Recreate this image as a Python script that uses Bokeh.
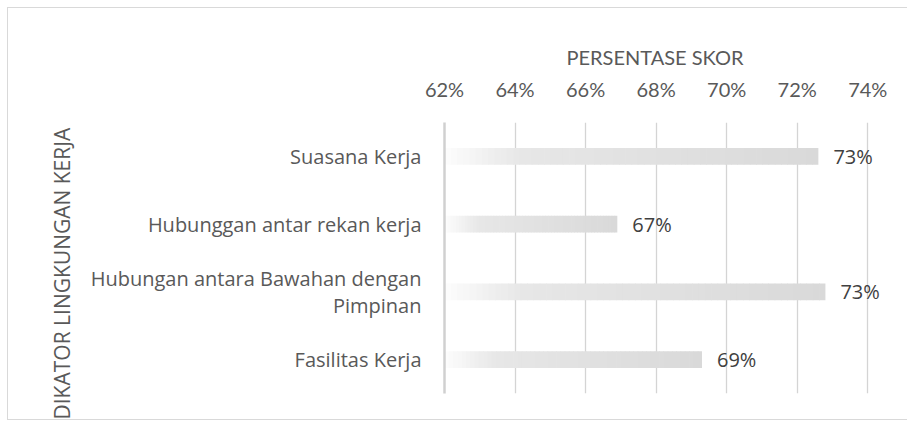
from bokeh.plotting import figure
from bokeh.models import (ColumnDataSource, FixedTicker, PrintfTickFormatter, Label,
                          Range1d, FactorRange, Title)
from bokeh.embed import file_html
from bokeh.resources import INLINE

# ---- data ----
categories = ["Suasana Kerja", "Hubunggan antar rekan kerja",
              "Hubungan antara Bawahan dengan\nPimpinan", "Fasilitas Kerja"]
values = [72.6, 66.9, 72.8, 69.3]
value_labels = ["73%", "67%", "73%", "69%"]
x_ticks = [62, 64, 66, 68, 70, 72, 74]
x_title = "PERSENTASE SKOR"
y_title = "DIKATOR LINGKUNGAN KERJA"

X_MIN, X_MAX = x_ticks[0], x_ticks[-1]
X_VIEW_END = X_MAX + 0.9   # room for the value labels to the right of the last gridline
factors = categories[::-1]

p = figure(width=900, height=413, output_backend="svg", toolbar_location=None,
           x_range=Range1d(X_MIN, X_VIEW_END), y_range=FactorRange(*factors),
           x_axis_location="above", min_border_left=436, min_border_right=9,
           min_border_top=114, min_border_bottom=28)
p.margin = (7, 0, 0, 7)
p.styles = {"border-top": "1px solid #d9d9d9", "border-left": "1px solid #d9d9d9",
            "border-bottom": "1px solid #d9d9d9", "box-sizing": "border-box"}
p.outline_line_color = None
p.background_fill_color = "white"
p.border_fill_color = "white"

# gradient bars: slices from axis start to value
N = 60
L, R, Y, C = [], [], [], []
for cat, v in zip(categories, values):
    for k in range(N):
        t = (k + 0.5) / N
        if t < 0.2:
            g = 253 - (253 - 231) * (t / 0.2)
        else:
            g = 231 - (231 - 217) * ((t - 0.2) / 0.8)
        g = int(round(g))
        L.append(X_MIN + (v - X_MIN) * k / N)
        R.append(min(v, X_MIN + (v - X_MIN) * (k + 1) / N + 0.02))
        Y.append(cat)
        C.append("#%02x%02x%02x" % (g, g, g))
src = ColumnDataSource(dict(left=L, right=R, y=Y, color=C))
p.hbar(y="y", left="left", right="right", height=0.25, source=src,
       fill_color="color", line_color=None)

# value labels; y is the synthetic coordinate of each factor (centre of its band)
for cat, v, txt in zip(categories, values, value_labels):
    ypos = factors.index(cat) + 0.5
    p.add_layout(Label(x=v, y=ypos, text=txt, x_offset=15,
                       text_baseline="middle", text_align="left",
                       text_font="Open Sans", text_font_size="20px", text_color="#404040"))

# x axis (top)
xa = p.xaxis[0]
xa.ticker = FixedTicker(ticks=x_ticks)
xa.formatter = PrintfTickFormatter(format="%d%%")
xa.axis_line_color = None
xa.major_tick_line_color = None
xa.minor_tick_line_color = None
xa.major_label_text_font = "Lato"
xa.major_label_text_font_size = "20px"
xa.major_label_text_color = "#595959"
xa.major_label_standoff = 16

# x title centred over the 62%..74% span
p.add_layout(Title(text=x_title, align="left", offset=122, standoff=9,
                   text_font="Lato", text_font_size="20px",
                   text_font_style="normal", text_color="#595959"), "above")

p.xgrid.ticker = FixedTicker(ticks=x_ticks)
p.xgrid.grid_line_color = "#d4d4d4"
p.xgrid.grid_line_width = 1.3
p.ygrid.grid_line_color = None

# y axis (left)
ya = p.yaxis[0]
ya.axis_line_color = "#d0d0d0"
ya.axis_line_width = 2.5
ya.major_tick_line_color = None
ya.minor_tick_line_color = None
ya.major_label_text_font = "Open Sans"
ya.major_label_text_font_size = "20px"
ya.major_label_text_color = "#595959"
ya.major_label_text_align = "center"
ya.major_label_text_line_height = 1.0
ya.major_label_standoff = 17

p.add_layout(Title(text=y_title, align="left", offset=-26, standoff=24,
                   text_font="Open Sans", text_font_size="21px",
                   text_font_style="normal", text_color="#595959"), "left")

open("out.html", "w").write(file_html(p, INLINE))
